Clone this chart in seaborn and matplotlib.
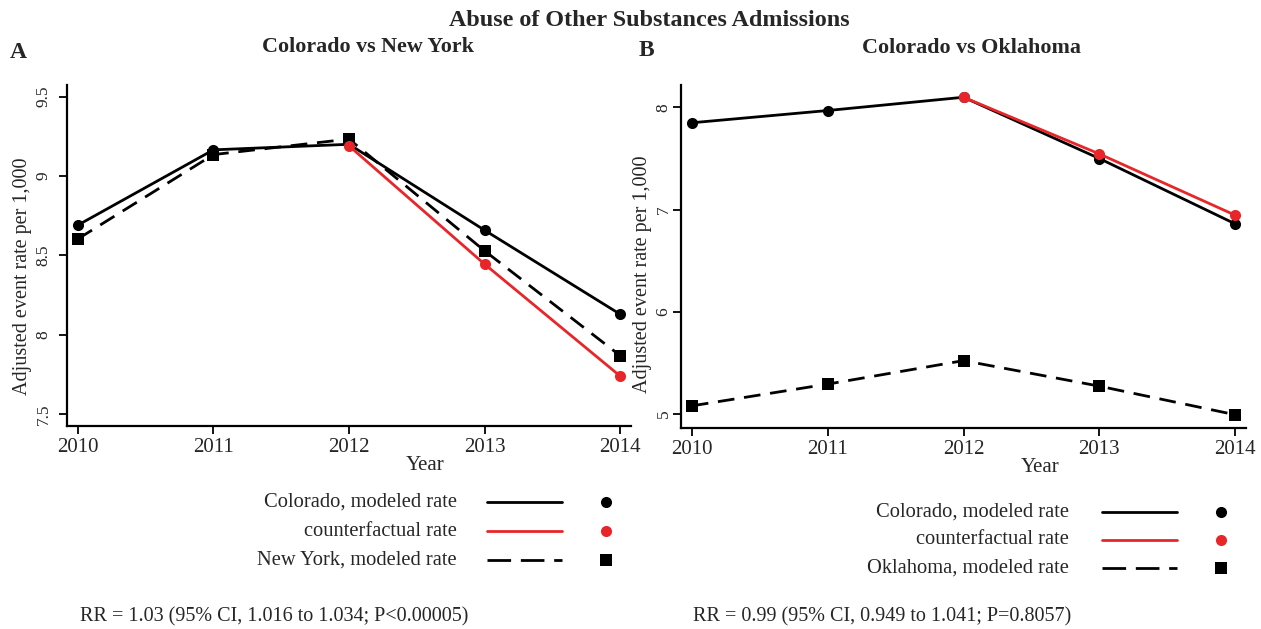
import matplotlib
matplotlib.use("Agg")
import matplotlib.pyplot as plt
from matplotlib.lines import Line2D
import seaborn as sns
import pandas as pd

# --- data -------------------------------------------------------------
years = [2010, 2011, 2012, 2013, 2014]
cf_years = [2012, 2013, 2014]

ny_colorado = [8.69, 9.165, 9.20, 8.658, 8.128]
ny_counterfactual = [9.19, 8.444, 7.738]
ny_newyork = [8.603, 9.135, 9.233, 8.528, 7.867]

ok_colorado = [7.85, 7.97, 8.10, 7.50, 6.86]
ok_counterfactual = [8.10, 7.545, 6.945]
ok_oklahoma = [5.077, 5.29, 5.52, 5.27, 4.99]

ny_yticks = [7.5, 8, 8.5, 9, 9.5]
ny_yticklabels = ["7.5", "8", "8.5", "9", "9.5"]
ok_yticks = [5, 6, 7, 8]
ok_yticklabels = ["5", "6", "7", "8"]

legend_ny = ["Colorado, modeled rate", "counterfactual rate", "New York, modeled rate"]
legend_ok = ["Colorado, modeled rate", "counterfactual rate", "Oklahoma, modeled rate"]
rr_ny = "RR = 1.03 (95% CI, 1.016 to 1.034; P<0.00005)"
rr_ok = "RR = 0.99 (95% CI, 0.949 to 1.041; P=0.8057)"

sns.set_style("ticks")
plt.rcParams["font.family"] = ["Liberation Serif", "DejaVu Serif"]

RED = "#e8262a"
W, H = 1261, 629
fig = plt.figure(figsize=(W / 100, H / 100), dpi=100)


def fx(px):
    return px / W


def fy(py):
    return 1 - py / H


def panel(rect, series, cf, yticks, yticklabels, ylim, ytick_pad, ylabel_xy):
    ax = fig.add_axes(rect)
    (c_vals, other_vals) = series
    df = pd.DataFrame({"year": years, "co": c_vals, "other": other_vals})
    dcf = pd.DataFrame({"year": cf_years, "cf": cf})
    sns.lineplot(data=df, x="year", y="other", ax=ax, color="black", lw=2.0,
                 linestyle=(0, (6, 3.5)), marker="s", markersize=8,
                 markeredgewidth=0)
    sns.lineplot(data=df, x="year", y="co", ax=ax, color="black", lw=2.0,
                 marker="o", markersize=8, markeredgewidth=0)
    sns.lineplot(data=dcf, x="year", y="cf", ax=ax, color=RED, lw=2.0,
                 marker="o", markersize=8, markeredgewidth=0)
    ax.set_xlim(2009.92, 2014.08)
    ax.set_ylim(*ylim)
    ax.set_xticks(years)
    ax.set_xticklabels([str(y) for y in years], fontsize=15)
    ax.set_yticks(yticks)
    ax.set_yticklabels(yticklabels, fontsize=12.5, rotation=90, va="center")
    ax.tick_params(axis="both", direction="out", length=5.5, width=1.3,
                   color="black")
    ax.tick_params(axis="y", pad=ytick_pad)
    sns.despine(ax=ax)
    for s in ("left", "bottom"):
        ax.spines[s].set_linewidth(1.6)
        ax.spines[s].set_color("black")
    ax.set_ylabel("Adjusted event rate per 1,000", fontsize=14.5)
    ax.yaxis.set_label_coords(*ylabel_xy)
    ax.set_xlabel("Year", fontsize=15)
    ax.xaxis.set_label_coords(0.635, -0.088)
    return ax


axA = panel([fx(67), fy(426), fx(631) - fx(67), fy(85) - fy(426)],
            (ny_colorado, ny_newyork), ny_counterfactual,
            ny_yticks, ny_yticklabels, (7.423, 9.574), 5.5, (-0.062, 0.44))
axB = panel([fx(681), fy(428), fx(1246) - fx(681), fy(85) - fy(428)],
            (ok_colorado, ok_oklahoma), ok_counterfactual,
            ok_yticks, ok_yticklabels, (4.86, 8.22), 1.2, (-0.052, 0.449))

# titles
fig.text(fx(649), fy(20), "Abuse of Other Substances Admissions",
         ha="center", va="center", fontsize=17.4, fontweight="bold")
fig.text(fx(368), fy(47), "Colorado vs New York", ha="center", va="center",
         fontsize=15.8, fontweight="bold")
fig.text(fx(972), fy(48), "Colorado vs Oklahoma", ha="center", va="center",
         fontsize=15.8, fontweight="bold")
fig.text(fx(18), fy(52), "A", ha="center", va="center", fontsize=17,
         fontweight="bold")
fig.text(fx(646), fy(50), "B", ha="center", va="center", fontsize=17,
         fontweight="bold")


def legend_block(labels, text_x, line_x0, line_x1, mark_x, rows):
    styles = [("black", "-", "o"), (RED, "-", "o"), ("black", (0, (8.5, 3.5)), "s")]
    for lab, row, (col, ls, mk) in zip(labels, rows, styles):
        fig.text(fx(text_x), fy(row), lab, ha="right", va="center", fontsize=14.8)
        fig.add_artist(Line2D([fx(line_x0), fx(line_x1)], [fy(row), fy(row)],
                              color=col, lw=2.0, linestyle=ls,
                              transform=fig.transFigure))
        fig.add_artist(Line2D([fx(mark_x)], [fy(row)], color=col, marker=mk,
                              markersize=8, markeredgewidth=0, linestyle="none",
                              transform=fig.transFigure))


legend_block(legend_ny, 457, 487, 562, 606, [502, 531, 560])
legend_block(legend_ok, 1069, 1102, 1177, 1221, [512, 540, 568])

fig.text(fx(80), fy(617), rr_ny, ha="left", va="center", fontsize=14.5)
fig.text(fx(693), fy(617), rr_ok, ha="left", va="center", fontsize=14.5)

fig.savefig("out.png", dpi=100, facecolor="white")
